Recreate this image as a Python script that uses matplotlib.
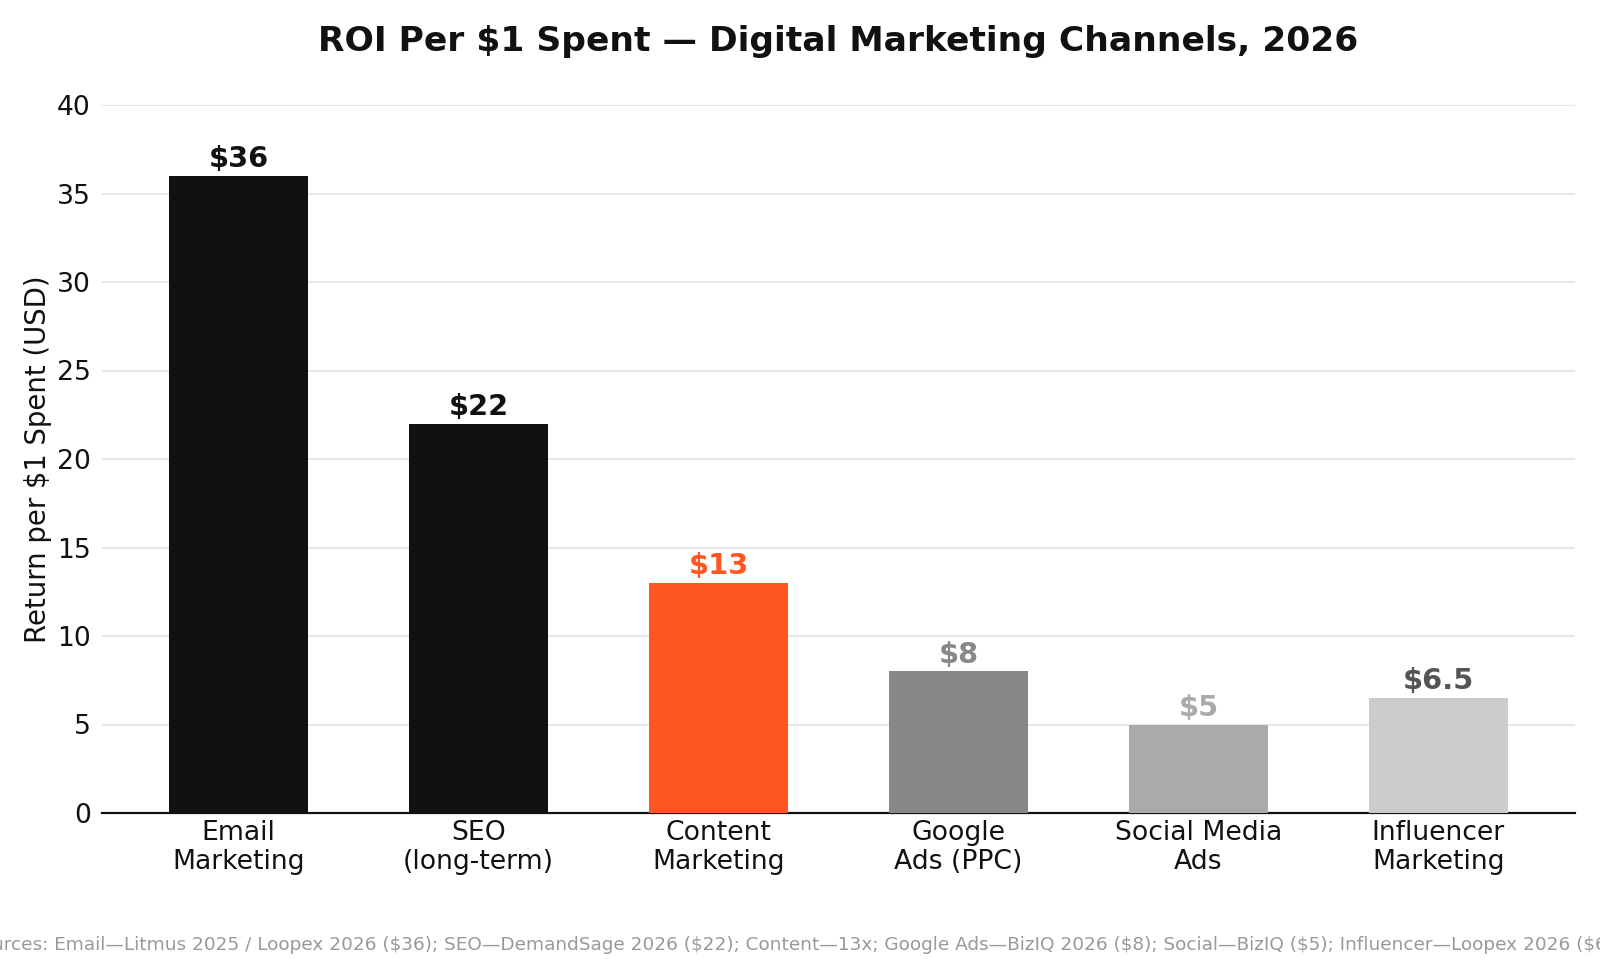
import matplotlib
matplotlib.use("Agg")
import matplotlib.pyplot as plt

categories = ["Email\nMarketing", "SEO\n(long-term)", "Content\nMarketing",
              "Google\nAds (PPC)", "Social Media\nAds", "Influencer\nMarketing"]
values = [36, 22, 13, 8, 5, 6.5]
value_labels = ["$36", "$22", "$13", "$8", "$5", "$6.5"]
bar_colors = ["#111111", "#111111", "#FF5722", "#888888", "#AAAAAA", "#CCCCCC"]
label_colors = ["#111111", "#111111", "#FF5722", "#888888", "#AAAAAA", "#555555"]
yticks = [0, 5, 10, 15, 20, 25, 30, 35, 40]
title = "ROI Per $1 Spent — Digital Marketing Channels, 2026"
ylabel = "Return per $1 Spent (USD)"
footer = ("Sources: Email—Litmus 2025 / Loopex 2026 ($36); SEO—DemandSage 2026 ($22); "
          "Content—13x; Google Ads—BizIQ 2026 ($8); Social—BizIQ ($5); Influencer—Loopex 2026 ($6.5)")

plt.rcParams['font.family'] = ['DejaVu Sans']
fig = plt.figure(figsize=(10, 6), dpi=160)
ax = fig.add_axes([102/1600, 1 - 813/960, (1575-102)/1600, (813-105)/960])

x = list(range(len(categories)))
ax.bar(x, values, width=0.58, color=bar_colors, zorder=3)
for xi, v, lab, c in zip(x, values, value_labels, label_colors):
    ax.text(xi, v + 0.15, lab, ha='center', va='bottom', fontsize=13,
            fontweight='bold', color=c, zorder=4)

ax.set_ylim(0, 40)
ax.set_yticks(yticks)
ax.set_xticks(x)
ax.set_xticklabels(categories, fontsize=12, color="#111111", linespacing=1.15)
ax.tick_params(axis='y', labelsize=12, length=0, pad=5, colors="#111111")
ax.tick_params(axis='x', length=0, pad=3)
ax.grid(axis='y', color='#e5e5e5', linewidth=0.8, zorder=0)
ax.set_axisbelow(True)
for s in ['top', 'right', 'left']:
    ax.spines[s].set_visible(False)
ax.spines['bottom'].set_color('#111111')
ax.spines['bottom'].set_linewidth(1.0)
ax.set_ylabel(ylabel, fontsize=12.4, color="#111111", labelpad=2)

fig.text((102 + 1575) / 3200, 1 - 42/960, title, ha='center', va='center', fontsize=15.5,
         fontweight='bold', color="#111111")
fig.text(0.5, 1 - 945/960, footer, ha='center', va='center', fontsize=8.3,
         color="#999999")

fig.savefig("out.png", dpi=160, facecolor='white')
